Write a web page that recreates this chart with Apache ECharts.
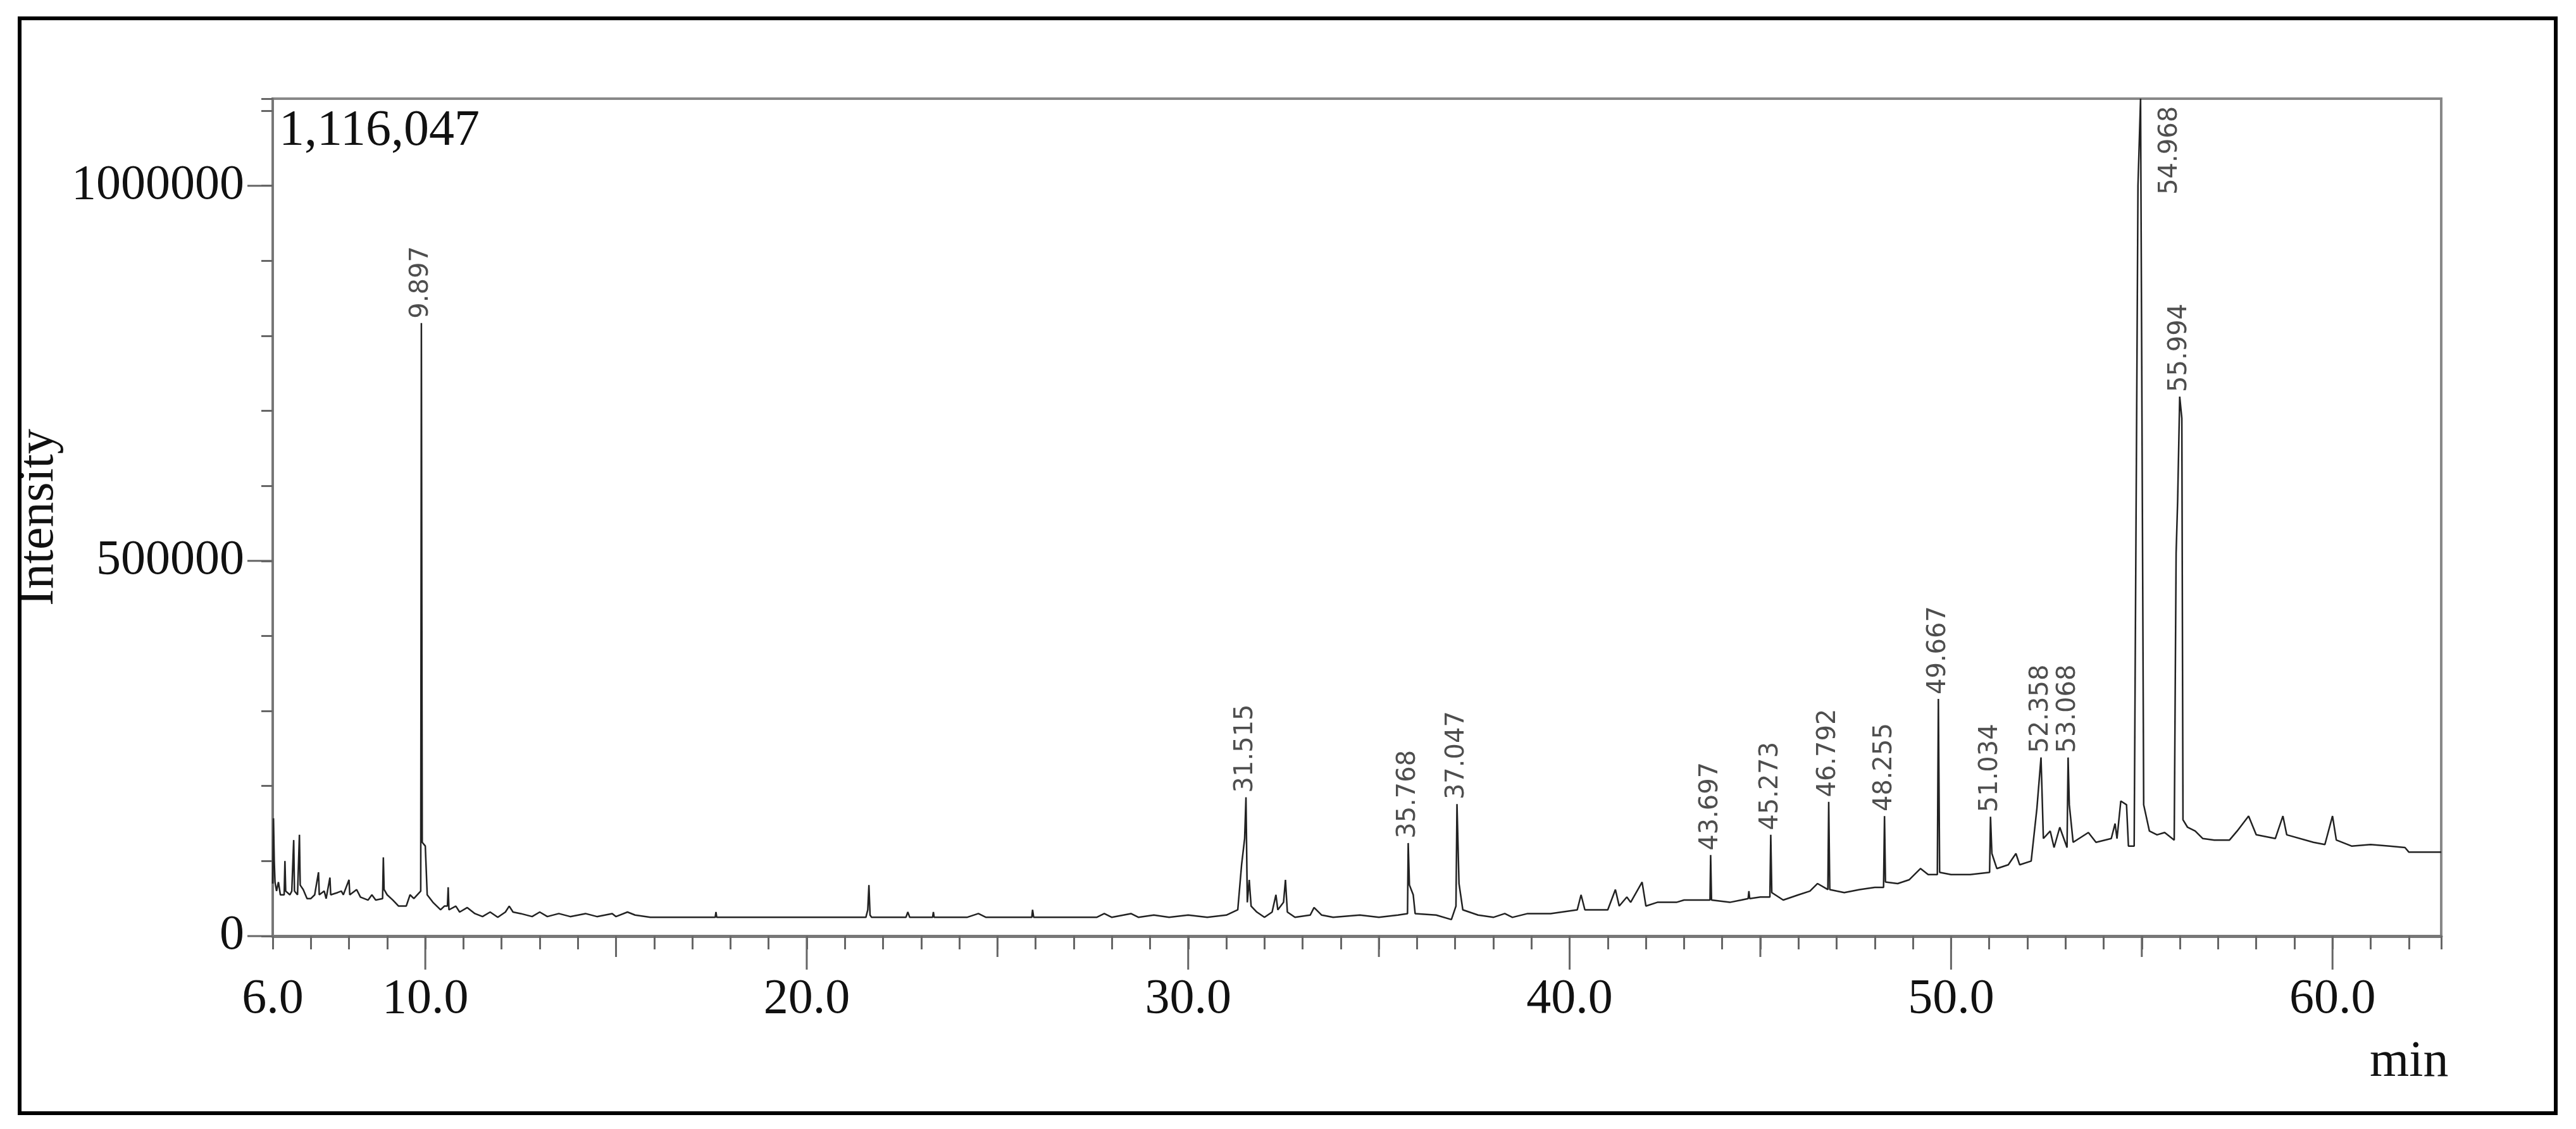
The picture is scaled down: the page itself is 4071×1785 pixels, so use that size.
<!DOCTYPE html>
<html><head><meta charset="utf-8">
<script src="https://cdn.jsdelivr.net/npm/echarts@6/dist/echarts.min.js"></script>
<style>html,body{margin:0;padding:0;background:#fff}#c{width:4071px;height:1785px}</style>
</head><body><div id="c"></div>
<script>
// Trace: [time (min), intensity (thousands)]
const traceK = [[6.0,70],[6.02,157],[6.04,100],[6.06,72],[6.1,60],[6.15,72],[6.2,55],[6.3,55],[6.32,100],[6.34,60],[6.45,55],[6.5,60],[6.55,128],[6.57,60],[6.65,55],[6.7,135],[6.72,68],[6.8,62],[6.9,50],[7.0,50],[7.1,55],[7.2,85],[7.22,55],[7.35,60],[7.4,50],[7.5,78],[7.52,55],[7.7,58],[7.8,60],[7.85,55],[8.0,75],[8.02,55],[8.2,62],[8.3,52],[8.5,48],[8.6,55],[8.7,48],[8.88,50],[8.9,105],[8.92,62],[9.0,55],[9.15,48],[9.3,40],[9.5,40],[9.6,55],[9.7,50],[9.88,60],[9.897,817],[9.92,125],[10.0,120],[10.05,55],[10.2,45],[10.4,35],[10.5,40],[10.58,40],[10.6,65],[10.62,35],[10.8,40],[10.9,32],[11.1,38],[11.3,30],[11.5,26],[11.7,32],[11.9,25],[12.1,32],[12.2,40],[12.3,32],[12.5,30],[12.8,26],[13.0,32],[13.2,26],[13.5,30],[13.8,26],[14.2,30],[14.5,26],[14.9,30],[15.0,26],[15.3,32],[15.5,28],[15.9,25],[17.6,25],[17.62,32],[17.64,25],[21.55,25],[21.6,35],[21.63,68],[21.66,28],[21.7,25],[22.6,25],[22.65,32],[22.7,25],[23.3,25],[23.32,32],[23.34,25],[24.2,25],[24.5,30],[24.7,25],[25.9,25],[25.92,35],[25.95,25],[27.6,25],[27.8,30],[28,25],[28.5,30],[28.7,25],[29.1,28],[29.5,25],[30.0,28],[30.5,25],[31.0,28],[31.3,35],[31.4,95],[31.48,130],[31.515,185],[31.55,45],[31.6,75],[31.65,40],[31.8,32],[32.0,25],[32.2,32],[32.3,55],[32.35,35],[32.5,45],[32.55,75],[32.6,32],[32.8,25],[33.2,28],[33.3,38],[33.5,28],[33.8,25],[34.5,28],[35.0,25],[35.5,28],[35.75,30],[35.768,124],[35.8,68],[35.9,55],[35.95,30],[36.5,28],[36.9,22],[37.02,40],[37.047,176],[37.1,70],[37.2,35],[37.6,28],[38.0,25],[38.3,30],[38.5,25],[38.9,30],[39.5,30],[40.2,35],[40.3,55],[40.4,35],[41.0,35],[41.2,62],[41.3,40],[41.5,52],[41.6,45],[41.9,72],[42.0,40],[42.3,45],[42.8,45],[43.0,48],[43.68,48],[43.697,108],[43.72,48],[44.2,45],[44.5,48],[44.68,50],[44.7,60],[44.72,50],[45.0,52],[45.25,52],[45.273,135],[45.3,58],[45.6,48],[46.0,55],[46.3,60],[46.5,70],[46.77,62],[46.792,179],[46.82,62],[47.2,58],[47.6,62],[48.0,65],[48.23,65],[48.255,160],[48.28,72],[48.6,70],[48.9,75],[49.2,90],[49.4,82],[49.64,82],[49.667,316],[49.7,85],[50.0,82],[50.5,82],[51.01,85],[51.034,159],[51.07,110],[51.2,90],[51.5,95],[51.7,110],[51.8,95],[52.1,100],[52.25,170],[52.358,238],[52.42,130],[52.6,140],[52.7,118],[52.85,145],[53.04,118],[53.068,238],[53.1,175],[53.2,125],[53.6,138],[53.8,125],[54.2,130],[54.3,150],[54.35,130],[54.45,180],[54.6,175],[54.65,120],[54.8,120],[54.9,1000],[54.968,1116],[55.0,1116],[55.05,175],[55.2,140],[55.4,135],[55.6,138],[55.85,128],[55.9,510],[55.94,580],[55.994,719],[56.05,690],[56.08,155],[56.2,145],[56.4,140],[56.6,130],[56.9,128],[57.3,128],[57.5,140],[57.8,160],[58.0,135],[58.5,130],[58.7,160],[58.8,135],[59.5,125],[59.8,122],[60.0,160],[60.1,128],[60.5,120],[61.0,122],[61.5,120],[61.9,118],[62.0,112],[62.85,112]];
const peakTimes = [9.897,31.515,35.768,37.047,43.697,45.273,46.792,48.255,49.667,51.034,52.358,53.068,55.994];
const peakHeightsK = [817,185,124,176,108,135,179,160,316,159,238,238,719];
const topPeakLabel = {time:54.968, labelAt:55.75};
const xLabelTicks = [6,10,20,30,40,50,60];
const xMajorTicks = [10,20,30,40,50,60];
const xMidTicks = [15,25,35,45,55];
const yMajorTicks = [0,500000,1000000];
const yMax = 1116047;

const trace = traceK.map(p => [p[0], p[1]*1000]);
const peakData = peakTimes.map((t,i)=>({value:[t, peakHeightsK[i]*1000 + 6000], name:t.toFixed(3)}));
peakData.push({value:[topPeakLabel.labelAt, yMax-10000], name: topPeakLabel.time.toFixed(3),
  label:{align:'right'}});

const chart = echarts.init(document.getElementById('c'));
function tickSeries(vals, axis, len){
  return {type:'custom', clip:false, silent:true, z:5,
    data: vals.map(v=>axis==='x'?[v,0]:[6,v]),
    renderItem:(params, api)=>{
      const p = api.coord([api.value(0), api.value(1)]);
      const shape = axis==='x' ? {x1:p[0],y1:p[1],x2:p[0],y2:p[1]+len} : {x1:p[0],y1:p[1],x2:p[0]-len,y2:p[1]};
      return {type:'line', shape, style:{stroke:'#666', lineWidth:3}};
    }};
}
chart.setOption({
  animation:false,
  grid:{left:431, right:213, top:156, bottom:305, show:true, borderColor:'#888', borderWidth:4},
  xAxis:{type:'value', min:6, max:62.85, interval:1,
    axisLine:{onZero:false, lineStyle:{color:'#777', width:5}},
    axisTick:{length:21, lineStyle:{color:'#666', width:3}},
    splitLine:{show:false},
    axisLabel:{margin:62, fontFamily:'Liberation Serif', fontSize:78, color:'#111',
      formatter:v=> xLabelTicks.includes(Math.round(v)) && Math.abs(v-Math.round(v))<1e-6 ? v.toFixed(1) : ''}
  },
  yAxis:{type:'value', min:0, max:yMax, interval:100000,
    axisLine:{show:true, lineStyle:{color:'#777', width:4}},
    axisTick:{length:18, lineStyle:{color:'#666', width:3}},
    splitLine:{show:false},
    name:'Intensity', nameLocation:'middle', nameGap:290, nameRotate:90,
    nameTextStyle:{fontFamily:'Liberation Serif', fontSize:80, color:'#111'},
    axisLabel:{margin:45, fontFamily:'Liberation Serif', fontSize:78, color:'#111',
      formatter:v=> yMajorTicks.includes(v) ? String(v) : ''}
  },
  series:[
    {type:'line', data:trace, showSymbol:false, symbol:'none', lineStyle:{color:'#222', width:2.5}, z:3},
    {type:'scatter', data:peakData, symbolSize:0, z:4,
      label:{show:true, formatter:p=>p.name, rotate:90, position:[0,0], align:'left', verticalAlign:'middle',
        fontFamily:'DejaVu Sans', fontSize:40, color:'#222'}},
    tickSeries(xMajorTicks,'x',53),
    tickSeries(xMidTicks,'x',33),
    tickSeries(yMajorTicks,'y',40)
  ],
  graphic:[
    {type:'rect', shape:{x:31,y:29,width:4008,height:1731}, style:{fill:'none', stroke:'#000', lineWidth:6}, z:10},
    {type:'text', left:441, top:168, style:{text:'1,116,047', font:'80px "Liberation Serif"', fill:'#111'}},
    {type:'text', left:3745, top:1640, style:{text:'min', font:'80px "Liberation Serif"', fill:'#111'}}
  ]
});
</script></body></html>
